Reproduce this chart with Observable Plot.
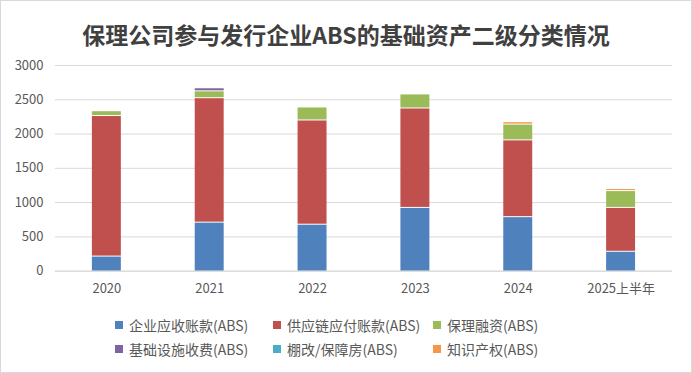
<!DOCTYPE html>
<html>
<head>
<meta charset="utf-8">
<script src="https://cdn.jsdelivr.net/npm/d3@7"></script>
<script src="https://cdn.jsdelivr.net/npm/@observablehq/plot@0.6"></script>
<style>
  html, body { margin: 0; padding: 0; background: #fff; }
  #wrap { position: relative; width: 692px; height: 373px; box-sizing: border-box; border: 1px solid #d9d9d9; background: #fff; font-family: "Noto Sans CJK SC", "Noto Sans", sans-serif; overflow: hidden; }
  #title { position: absolute; left: 0; top: 15px; width: 690px; text-align: center; font-size: 23px; font-weight: 700; color: #404040; line-height: 36px; }
  #chart { position: absolute; left: -1px; top: 49px; }
  #legend { position: absolute; left: 114px; top: 313px; display: grid; grid-template-columns: 158px 160px 160px; row-gap: 2px; font-size: 14px; color: #595959; }
  .item { display: flex; align-items: center; height: 22px; white-space: nowrap; }
  .sw { width: 8px; height: 8px; margin-right: 6px; flex: none; }
</style>
</head>
<body>
<div id="wrap">
  <div id="title">保理公司参与发行企业ABS的基础资产二级分类情况</div>
  <div id="chart"></div>
  <div id="legend"></div>
</div>
<script>
const categories = ["2020", "2021", "2022", "2023", "2024", "2025上半年"];
const seriesNames = ["企业应收账款(ABS)", "供应链应付账款(ABS)", "保理融资(ABS)", "基础设施收费(ABS)", "棚改/保障房(ABS)", "知识产权(ABS)"];
const seriesColors = ["#4F81BD", "#C0504D", "#9BBB59", "#8064A2", "#4BACC6", "#F79646"];
const receivables = [220, 715, 685, 930, 795, 290];
const supplyChain = [2050, 1815, 1520, 1450, 1120, 640];
const factoring = [70, 100, 190, 205, 230, 245];
const infrastructure = [0, 45, 0, 0, 0, 0];
const housing = [0, 0, 0, 0, 0, 0];
const ip = [0, 0, 0, 0, 35, 30];
const yTicks = [0, 500, 1000, 1500, 2000, 2500, 3000];

const seriesValues = [receivables, supplyChain, factoring, infrastructure, housing, ip];
const data = [];
seriesNames.forEach((s, i) => {
  categories.forEach((c, j) => {
    data.push({category: c, series: s, value: seriesValues[i][j], order: i});
  });
});

const chart = Plot.plot({
  width: 692,
  height: 255,
  marginLeft: 55,
  marginRight: 19,
  marginTop: 15,
  marginBottom: 34,
  style: {fontFamily: "'Noto Sans CJK SC', 'Noto Sans', sans-serif", fontSize: "13px", color: "#595959", background: "transparent"},
  x: {domain: categories, paddingInner: 0.72, paddingOuter: 0.36, align: 0.5, label: null, tickSize: 0, tickPadding: 13},
  y: {domain: [0, 3000], ticks: yTicks, tickFormat: d => String(d), label: null, tickSize: 0, tickPadding: 12},
  color: {domain: seriesNames, range: seriesColors},
  marks: [
    Plot.gridY(yTicks, {stroke: "#d9d9d9", strokeOpacity: 1, strokeWidth: 1}),
    Plot.barY(data, Plot.stackY({order: "order"}, {x: "category", y: "value", fill: "series", insetTop: 1, filter: d => d.value > 0})),
    Plot.ruleY([0], {stroke: "#d9d9d9", strokeWidth: 1})
  ]
});
document.getElementById("chart").appendChild(chart);

const legend = document.getElementById("legend");
seriesNames.forEach((s, i) => {
  const item = document.createElement("div");
  item.className = "item";
  const sw = document.createElement("span");
  sw.className = "sw";
  sw.style.background = seriesColors[i];
  const t = document.createElement("span");
  t.textContent = s;
  item.appendChild(sw);
  item.appendChild(t);
  legend.appendChild(item);
});
</script>
</body>
</html>
